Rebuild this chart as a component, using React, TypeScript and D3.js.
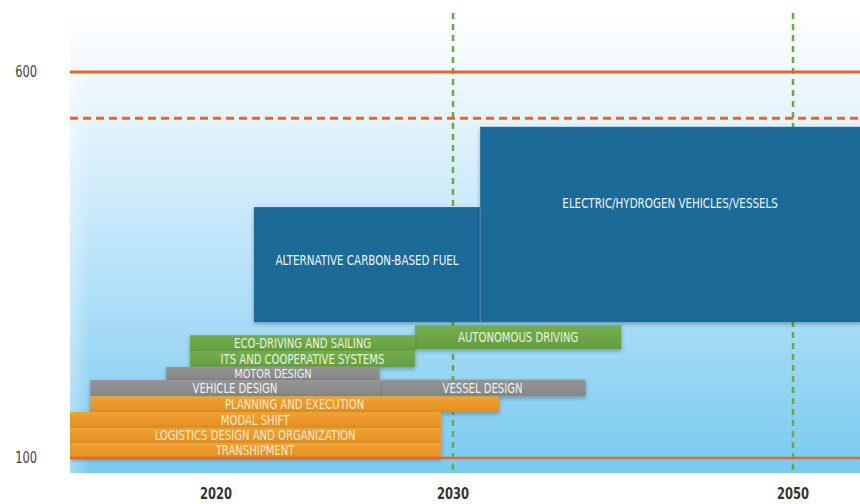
import React from "react";
import * as d3 from "d3";

// ---- data ----
const yearTicks = [2020, 2030, 2050];
const valueTicks = [100, 600];
const limitSolid = 600;
const limitDashed = 540;
const milestoneYears = [2030, 2050];

const barLabels = [
  "TRANSHIPMENT",
  "LOGISTICS DESIGN AND ORGANIZATION",
  "MODAL SHIFT",
  "PLANNING AND EXECUTION",
  "VEHICLE DESIGN",
  "VESSEL DESIGN",
  "MOTOR DESIGN",
  "ITS AND COOPERATIVE SYSTEMS",
  "ECO-DRIVING AND SAILING",
  "AUTONOMOUS DRIVING",
];
const barGroups = ["orange", "orange", "orange", "orange", "gray", "gray", "gray", "green", "green", "green"];
const barStart = [2013.8, 2013.8, 2013.8, 2014.7, 2014.7, 2026.9, 2017.9, 2018.9, 2018.9, 2028.4];
const barEnd = [2029.5, 2029.5, 2029.5, 2032.7, 2026.9, 2037.8, 2026.9, 2028.4, 2028.4, 2039.9];
const barLow = [100, 119.5, 139, 159.5, 180, 180, 201, 218, 238.5, 241];
const barHigh = [119.5, 139, 159.5, 180, 201, 201.5, 218, 238.5, 259, 272];

const boxLabels = ["ALTERNATIVE CARBON-BASED FUEL", "ELECTRIC/HYDROGEN VEHICLES/VESSELS"];
const boxStart = [2021.6, 2031.6];
const boxEnd = [2031.6, 2054];
const boxLow = [276, 276];
const boxHigh = [425, 529];
const boxLabelAt = [356, 430];

// ---- layout ----
const W = 860;
const H = 504;
const plotLeft = 70;
const plotRight = 860;
const plotTop = 10;
const plotBottom = 473;

const x = d3.scaleLinear().domain(yearTicks).range([216, 453, 793]);
const y = d3.scaleLinear().domain([100, 600]).range([458, 72]);

const FONT = "'Liberation Sans Narrow', 'DejaVu Sans Condensed', 'Arial Narrow', sans-serif";

const fills: Record<string, string> = {
  orange: "url(#gOrange)",
  gray: "url(#gGray)",
  green: "url(#gGreen)",
};
const textFills: Record<string, string> = {
  orange: "#fde8c6",
  gray: "#f1f1f1",
  green: "#e9f4da",
};

function NarrowText(props: {
  x: number;
  y: number;
  sx: number;
  size: number;
  fill: string;
  anchor?: string;
  baseline?: string;
  weight?: string;
  children: React.ReactNode;
}) {
  return (
    <text
      transform={`translate(${props.x},${props.y}) scale(${props.sx},1)`}
      textAnchor={props.anchor || "middle"}
      dominantBaseline={props.baseline || "auto"}
      fill={props.fill}
      fontFamily={FONT}
      fontSize={props.size}
      fontWeight={props.weight || "normal"}
    >
      {props.children}
    </text>
  );
}

export default function App() {
  const order = d3.range(barLabels.length).reverse();
  return (
    <svg width={W} height={H} style={{ display: "block", position: "absolute", left: 0, top: 0 }}>
      <defs>
        <linearGradient id="bg" x1="0" y1="0" x2="0" y2="1">
          <stop offset="0" stopColor="#ffffff" />
          <stop offset="0.25" stopColor="#e3f3fc" />
          <stop offset="0.6" stopColor="#b2e0f8" />
          <stop offset="1" stopColor="#78caf0" />
        </linearGradient>
        <linearGradient id="bgLeft" x1="0" y1="0" x2="1" y2="0">
          <stop offset="0" stopColor="#ffffff" stopOpacity="0.35" />
          <stop offset="1" stopColor="#ffffff" stopOpacity="0" />
        </linearGradient>
        <linearGradient id="gOrange" x1="0" y1="0" x2="0" y2="1">
          <stop offset="0" stopColor="#f0a332" />
          <stop offset="1" stopColor="#e28e23" />
        </linearGradient>
        <linearGradient id="gGray" x1="0" y1="0" x2="0" y2="1">
          <stop offset="0" stopColor="#959595" />
          <stop offset="1" stopColor="#868686" />
        </linearGradient>
        <linearGradient id="gGreen" x1="0" y1="0" x2="0" y2="1">
          <stop offset="0" stopColor="#74ad4d" />
          <stop offset="1" stopColor="#649f40" />
        </linearGradient>
        <filter id="shadow" x="-5%" y="-40%" width="110%" height="200%">
          <feDropShadow dx="0" dy="2" stdDeviation="2" floodColor="#000" floodOpacity="0.3" />
        </filter>
        <clipPath id="plotClip">
          <rect x={plotLeft} y={plotTop} width={plotRight - plotLeft} height={plotBottom - plotTop} />
        </clipPath>
      </defs>

      <rect x={plotLeft} y={plotTop} width={plotRight - plotLeft} height={plotBottom - plotTop} fill="url(#bg)" />
      <rect x={plotLeft} y={plotTop} width={20} height={plotBottom - plotTop} fill="url(#bgLeft)" />

      <g clipPath="url(#plotClip)">
        {milestoneYears.map((yr) => (
          <line
            key={yr}
            x1={x(yr)}
            x2={x(yr)}
            y1={13}
            y2={plotBottom}
            stroke="#6aa84a"
            strokeWidth={2.5}
            strokeDasharray="6 5"
          />
        ))}
        <line x1={plotLeft} x2={plotRight} y1={y(limitSolid)} y2={y(limitSolid)} stroke="#e8652b" strokeWidth={3} />
        <line
          x1={plotLeft}
          x2={plotRight}
          y1={y(limitDashed)}
          y2={y(limitDashed)}
          stroke="#e8652b"
          strokeWidth={3}
          strokeDasharray="8 5"
        />

        {boxLabels.map((lab, i) => (
          <rect
            key={lab}
            x={x(boxStart[i])}
            y={y(boxHigh[i])}
            width={x(boxEnd[i]) - x(boxStart[i])}
            height={y(boxLow[i]) - y(boxHigh[i])}
            fill="#1c6b97"
            filter="url(#shadow)"
          />
        ))}
        <line
          x1={x(boxStart[1])}
          x2={x(boxStart[1])}
          y1={y(boxHigh[0])}
          y2={y(boxLow[1])}
          stroke="#4c8fb8"
          strokeWidth={1}
        />
        {boxLabels.map((lab, i) => (
          <NarrowText
            key={lab}
            x={(x(boxStart[i]) + Math.min(x(boxEnd[i]), plotRight)) / 2}
            y={y(boxLabelAt[i])}
            sx={0.82}
            size={14}
            fill="#eef5fa"
            baseline="central"
          >
            {lab}
          </NarrowText>
        ))}

        {order.map((i) => (
          <rect
            key={barLabels[i]}
            x={x(barStart[i])}
            y={y(barHigh[i])}
            width={x(barEnd[i]) - x(barStart[i])}
            height={y(barLow[i]) - y(barHigh[i])}
            fill={fills[barGroups[i]]}
            filter="url(#shadow)"
          />
        ))}
        {order.map((i) => {
          const h = y(barLow[i]) - y(barHigh[i]);
          const size = Math.min(14, h * 0.92);
          return (
            <NarrowText
              key={barLabels[i] + "t"}
              x={(x(barStart[i]) + x(barEnd[i])) / 2}
              y={(y(barLow[i]) + y(barHigh[i])) / 2}
              sx={0.8 * (14 / size) > 0.9 ? 0.9 : 0.8 * (14 / size)}
              size={size}
              fill={textFills[barGroups[i]]}
              baseline="central"
            >
              {barLabels[i]}
            </NarrowText>
          );
        })}

        <line x1={plotLeft} x2={plotRight} y1={y(100)} y2={y(100)} stroke="#e06a33" strokeWidth={2.5} />
      </g>

      {valueTicks.map((v) => (
        <NarrowText key={v} x={37} y={y(v)} sx={0.85} size={15} fill="#444" anchor="end" baseline="central">
          {v}
        </NarrowText>
      ))}
      {yearTicks.map((t) => (
        <NarrowText key={t} x={x(t)} y={493} sx={0.8} size={16} fill="#333" weight="bold" baseline="central">
          {t}
        </NarrowText>
      ))}
    </svg>
  );
}
